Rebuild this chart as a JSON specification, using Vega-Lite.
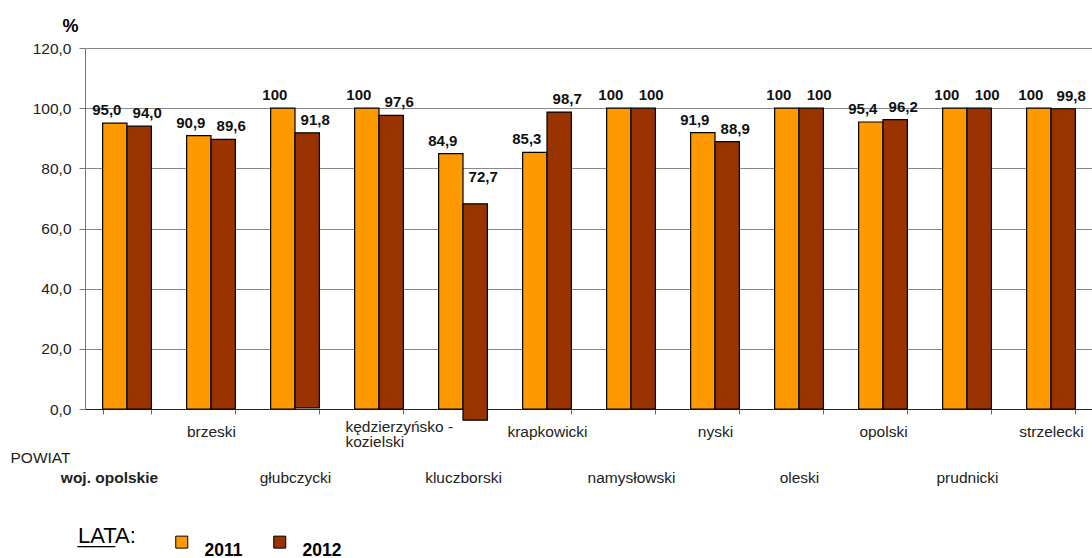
{
  "$schema": "https://vega.github.io/schema/vega-lite/v6.json",
  "width": 1008,
  "height": 361,
  "autosize": {"type": "none"},
  "padding": {"left": 85, "top": 48, "right": 0, "bottom": 149},
  "background": "white",
  "config": {"font": "Liberation Sans", "view": {"stroke": null}},
  "data": {
    "values": [
      {"powiat": "woj. opolskie", "rok": "2011", "v": 95.0, "top": 95.0, "bottom": 0},
      {"powiat": "woj. opolskie", "rok": "2012", "v": 94.0, "top": 94.0, "bottom": 0},
      {"powiat": "brzeski", "rok": "2011", "v": 90.9, "top": 90.9, "bottom": 0},
      {"powiat": "brzeski", "rok": "2012", "v": 89.6, "top": 89.6, "bottom": 0},
      {"powiat": "głubczycki", "rok": "2011", "v": 100, "top": 100, "bottom": 0},
      {"powiat": "głubczycki", "rok": "2012", "v": 91.8, "top": 91.8, "bottom": 0.4},
      {"powiat": "kędzierzyńsko-kozielski", "rok": "2011", "v": 100, "top": 100, "bottom": 0},
      {"powiat": "kędzierzyńsko-kozielski", "rok": "2012", "v": 97.6, "top": 97.6, "bottom": 0},
      {"powiat": "kluczborski", "rok": "2011", "v": 84.9, "top": 84.9, "bottom": 0},
      {"powiat": "kluczborski", "rok": "2012", "v": 72.7, "top": 68.2, "bottom": -3.7},
      {"powiat": "krapkowicki", "rok": "2011", "v": 85.3, "top": 85.3, "bottom": 0},
      {"powiat": "krapkowicki", "rok": "2012", "v": 98.7, "top": 98.7, "bottom": 0},
      {"powiat": "namysłowski", "rok": "2011", "v": 100, "top": 100, "bottom": 0},
      {"powiat": "namysłowski", "rok": "2012", "v": 100, "top": 100, "bottom": 0},
      {"powiat": "nyski", "rok": "2011", "v": 91.9, "top": 91.9, "bottom": 0},
      {"powiat": "nyski", "rok": "2012", "v": 88.9, "top": 88.9, "bottom": 0},
      {"powiat": "oleski", "rok": "2011", "v": 100, "top": 100, "bottom": 0},
      {"powiat": "oleski", "rok": "2012", "v": 100, "top": 100, "bottom": 0},
      {"powiat": "opolski", "rok": "2011", "v": 95.4, "top": 95.4, "bottom": 0},
      {"powiat": "opolski", "rok": "2012", "v": 96.2, "top": 96.2, "bottom": 0},
      {"powiat": "prudnicki", "rok": "2011", "v": 100, "top": 100, "bottom": 0},
      {"powiat": "prudnicki", "rok": "2012", "v": 100, "top": 100, "bottom": 0},
      {"powiat": "strzelecki", "rok": "2011", "v": 100, "top": 100, "bottom": 0},
      {"powiat": "strzelecki", "rok": "2012", "v": 99.8, "top": 99.8, "bottom": 0}
    ]
  },
  "transform": [
    {"calculate": "datum.v == 100 ? '100' : replace(format(datum.v, '.1f'), '.', ',')", "as": "lbl"}
  ],
  "encoding": {
    "x": {
      "field": "powiat",
      "type": "nominal",
      "sort": null,
      "scale": {"paddingInner": 0.42, "paddingOuter": 0.21},
      "axis": {
        "title": "POWIAT",
        "titleFontSize": 15.5,
        "titleFontWeight": "normal",
        "titleColor": "#222",
        "titleAlign": "left",
        "titleBaseline": "middle",
        "titleX": -75,
        "titleY": 48,
        "labelAngle": 0,
        "labelFontSize": 15.5,
        "labelColor": "#222",
        "labelBaseline": "top",
        "labelLineHeight": 15.5,
        "labelPadding": {"condition": [
          {"test": "datum.value == 'kędzierzyńsko-kozielski'", "value": 5},
          {"test": "indexof(['woj. opolskie', 'głubczycki', 'kluczborski', 'namysłowski', 'oleski', 'prudnicki'], datum.value) >= 0", "value": 56}
        ], "value": 10},
        "labelAlign": {"condition": {"test": "datum.value == 'kędzierzyńsko-kozielski'", "value": "left"}, "value": "center"},
        "labelOffset": {"condition": [{"test": "datum.value == 'kędzierzyńsko-kozielski'", "value": -34}, {"test": "datum.value == 'woj. opolskie'", "value": -18}], "value": 0},
        "labelLimit": 250,
        "labelFontWeight": {"condition": {"test": "datum.value == 'woj. opolskie'", "value": "bold"}, "value": "normal"},
        "labelExpr": "datum.value == 'kędzierzyńsko-kozielski' ? ['kędzierzyńsko -', 'kozielski'] : datum.value",
        "tickBand": "extent",
        "tickSize": 5,
        "tickColor": "#666",
        "domainColor": "#222",
        "grid": false
      }
    },
    "xOffset": {"field": "rok", "type": "nominal", "scale": {"paddingInner": 0, "paddingOuter": 0}}
  },
  "layer": [
    {
      "mark": {"type": "bar", "stroke": "black", "strokeWidth": 1.2},
      "encoding": {
        "y": {
          "field": "top",
          "type": "quantitative",
          "scale": {"domain": [0, 120], "nice": false},
          "axis": {
            "title": "%",
            "titleAngle": 0,
            "titleFontSize": 18,
            "titleFontWeight": "bold",
            "titleColor": "#000",
            "titleAlign": "center",
            "titleBaseline": "middle",
            "titleX": -15,
            "titleY": -22,
            "values": [0, 20, 40, 60, 80, 100, 120],
            "labelExpr": "replace(format(datum.value, '.1f'), '.', ',')",
            "labelFontSize": 15.5,
            "labelColor": "#222",
            "labelPadding": 8,
            "tickSize": 6,
            "tickColor": "#777",
            "domainColor": "#777",
            "gridColor": "#888",
            "gridWidth": 1
          }
        },
        "y2": {"field": "bottom"},
        "color": {
          "field": "rok",
          "type": "nominal",
          "scale": {"range": ["#FF9900", "#993300"]},
          "legend": {
            "title": ["LATA:", "‾‾‾‾‾"],
            "orient": "none",
            "legendX": -7,
            "legendY": 485,
            "direction": "horizontal",
            "titleOrient": "left",
            "titleBaseline": "middle",
            "titleLineHeight": 21,
            "titleFontSize": 22,
            "titleFontWeight": "normal",
            "titleColor": "#000",
            "titlePadding": 37,
            "labelFontSize": 17.5,
            "labelFontWeight": "bold",
            "labelColor": "#000",
            "labelOffset": 14,
            "labelBaseline": "top",
            "symbolType": "square",
            "symbolSize": 144,
            "symbolStrokeColor": "black",
            "symbolStrokeWidth": 1,
            "symbolOpacity": 1,
            "columnPadding": 28
          }
        }
      }
    },
    {
      "transform": [{"filter": "datum.rok == '2011'"}],
      "mark": {"type": "text", "fontWeight": "bold", "fontSize": 15, "dy": -13, "dx": -8, "baseline": "middle", "color": "#111"},
      "encoding": {
        "y": {"field": "v", "type": "quantitative"},
        "text": {"field": "lbl"}
      }
    },
    {
      "transform": [{"filter": "datum.rok == '2012'"}],
      "mark": {"type": "text", "fontWeight": "bold", "fontSize": 15, "dy": -13, "dx": 8, "baseline": "middle", "color": "#111"},
      "encoding": {
        "y": {"field": "v", "type": "quantitative"},
        "text": {"field": "lbl"}
      }
    }
  ]
}
